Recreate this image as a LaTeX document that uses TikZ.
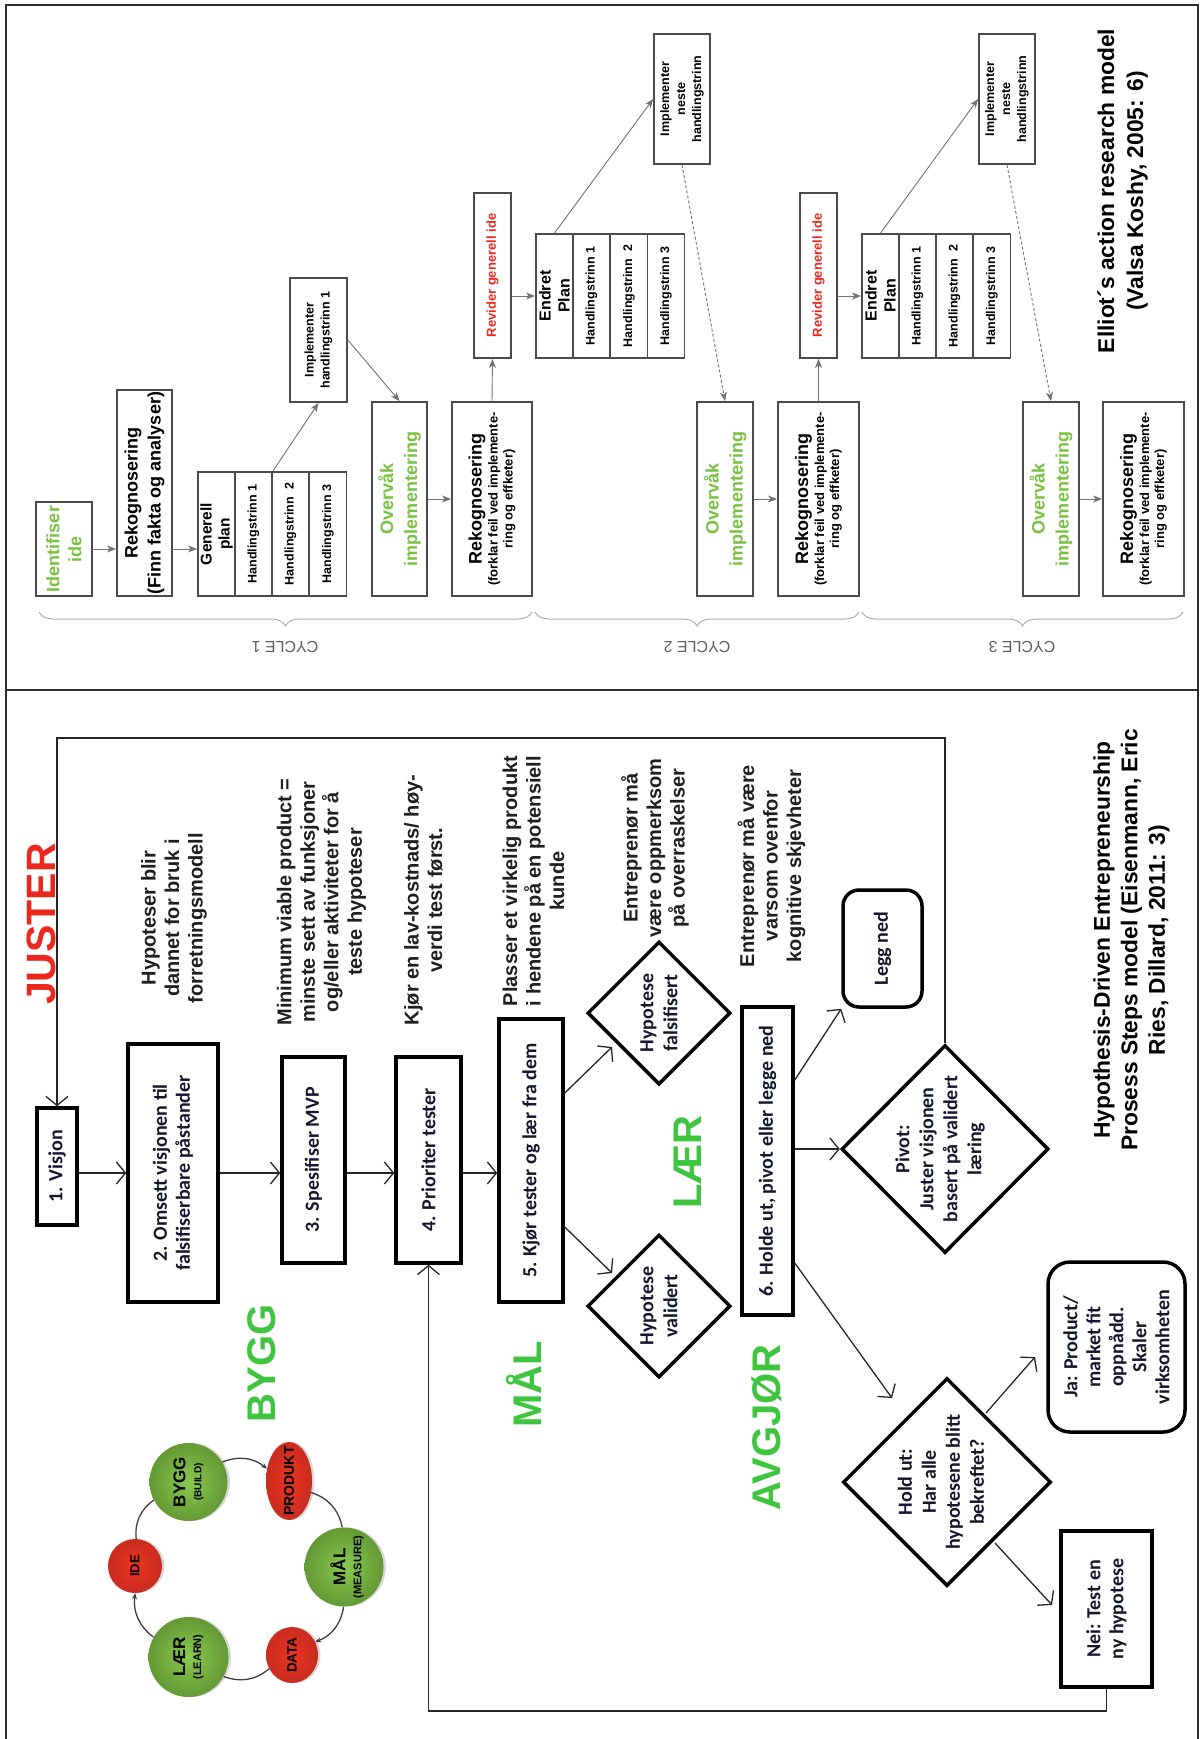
\documentclass[tikz,border=0pt]{standalone}
\usepackage{fontspec}
\setmainfont{Liberation Sans}
\newfontfamily\calfont{Carlito}
\usetikzlibrary{arrows.meta,shapes.geometric,decorations.pathreplacing,calc,shadows}

\newcommand{\fsz}[2]{\fontsize{#1}{#2}\selectfont}

\definecolor{framegray}{RGB}{45,45,45}
\definecolor{boxgray}{RGB}{75,75,75}
\definecolor{linegray}{RGB}{115,115,115}
\definecolor{bracegray}{RGB}{175,175,175}
\definecolor{cyclegray}{RGB}{95,95,95}
\definecolor{leafgreen}{RGB}{122,193,66}
\definecolor{stagegreen}{RGB}{62,196,62}
\definecolor{alertred}{RGB}{236,40,30}
\definecolor{ink}{RGB}{22,22,48}
\definecolor{ballgreen}{RGB}{128,196,66}
\definecolor{ballred}{RGB}{236,52,36}

\tikzset{
  vert/.style={rotate=90, align=center, inner sep=0pt},
  ebox/.style={vert, draw=boxgray, line width=1.8pt, font=\bfseries\fsz{12.5}{16}},
  cell/.style={ebox, minimum width=124pt, minimum height=37pt},
  earrow/.style={draw=linegray, line width=0.9pt, -{Stealth[length=9pt,width=7pt,inset=2.5pt]}},
  edash/.style={earrow, dash pattern=on 3pt off 2.2pt},
  cyclebrace/.style={draw=bracegray, line width=1pt, decorate, decoration={brace, amplitude=14pt}},
  cyclelab/.style={rotate=180, font=\fsz{16}{16}, text=cyclegray, inner sep=0pt},
  hbox/.style={vert, draw=black, line width=3.5pt, font=\calfont\bfseries\fsz{20}{23}, text=ink},
  hround/.style={hbox, rounded corners=16pt},
  hdia/.style={vert, diamond, draw=black, line width=3.5pt},
  dtext/.style={vert, font=\calfont\bfseries\fsz{20}{24}, text=ink},
  harrow/.style={draw=black!85, line width=1.3pt, -{Straight Barb[length=9pt,width=22pt]}},
  note/.style={vert, font=\bfseries\fsz{20}{23.5}, text=black!88},
  stage/.style={vert, font=\bfseries\fsz{40}{40}, text=stagegreen},
  headline/.style={vert, font=\bfseries\fsz{22.8}{28}, text=black},
  disc/.style={inner sep=0pt, drop shadow={opacity=0.3, shadow xshift=2.5pt, shadow yshift=0pt}},
  gdisc/.style={disc, circle, inner color=ballgreen!92!white, outer color=ballgreen!78!black},
  rdisc/.style={disc, ellipse, inner color=ballred, outer color=ballred!85!black},
  disctext/.style={vert, font=\bfseries\fsz{10}{13}, text=black},
  ringline/.style={draw=black!75, line width=1.3pt},
  ringarrow/.style={ringline, -{Stealth[length=6pt,width=5pt]}},
}

\begin{document}
\begin{tikzpicture}[x=1pt,y=-1pt]
\fill[white] (0,0) rectangle (1203,1739);
\useasboundingbox (0,0) rectangle (1203,1739);

% outer frame and divider between the two models
\draw[framegray, line width=1.5pt] (6,1739) -- (6,5) -- (1198,5) -- (1198,1739);
\draw[framegray, line width=1.5pt] (6,690) -- (1198,690);

% ================= Elliot's action research model =================
% cycle 1
\node[ebox, minimum width=94pt, minimum height=56pt, text=leafgreen, font=\bfseries\fsz{18}{22}] (idA) at (64,549) {Identifiser\\ide};
\node[ebox, minimum width=206pt, minimum height=55pt, font=\bfseries\fsz{18}{23}] (rekA) at (144.5,493) {Rekognosering\\(Finn fakta og analyser)};
\node[cell, font=\bfseries\fsz{15.5}{18}] (gpA) at (216.5,534) {Generell\\plan};
\node[cell] (h1A) at (253.5,534) {Handlingstrinn 1};
\node[cell] (h2A) at (290.5,534) {Handlingstrinn~\ 2};
\node[cell] (h3A) at (328,534) {Handlingstrinn 3};
\node[ebox, minimum width=124pt, minimum height=57pt] (impA) at (318.5,340) {Implementer\\handlingstrinn 1};
\node[ebox, minimum width=194pt, minimum height=55pt, text=leafgreen, font=\bfseries\fsz{18}{24}] (ovA) at (399.5,499) {Overvåk\\implementering};
\node[ebox, minimum width=194pt, minimum height=80pt, font=\bfseries\fsz{13}{15}] (rkA) at (492,499) {{\fsz{18}{20}Rekognosering}\\[1pt](forklar feil ved implemente-\\ring og effketer)};
\node[ebox, minimum width=165pt, minimum height=37pt, text=alertred, font=\bfseries\fsz{13}{15}] (rvA) at (492.5,275.5) {Revider generell ide};
\node[cell, font=\bfseries\fsz{16}{19}] (epA) at (554.5,296) {Endret\\Plan};
\node[cell] (e1A) at (591.5,296) {Handlingstrinn 1};
\node[cell] (e2A) at (629,296) {Handlingstrinn~\ 2};
\node[cell] (e3A) at (666,296) {Handlingstrinn 3};
\node[ebox, minimum width=130pt, minimum height=56pt] (inA) at (682,99) {Implementer\\neste\\handlingstrinn};

% cycle 2
\node[ebox, minimum width=194pt, minimum height=56pt, text=leafgreen, font=\bfseries\fsz{18}{24}] (ovB) at (725,499) {Overvåk\\implementering};
\node[ebox, minimum width=194pt, minimum height=81pt, font=\bfseries\fsz{13}{15}] (rkB) at (818.5,499) {{\fsz{18}{20}Rekognosering}\\[1pt](forklar feil ved implemente-\\ring og effketer)};
\node[ebox, minimum width=165pt, minimum height=37pt, text=alertred, font=\bfseries\fsz{13}{15}] (rvB) at (818.5,275.5) {Revider generell ide};
\node[cell, font=\bfseries\fsz{16}{19}] (epB) at (880.5,296) {Endret\\Plan};
\node[cell] (e1B) at (917.5,296) {Handlingstrinn 1};
\node[cell] (e2B) at (954.5,296) {Handlingstrinn~\ 2};
\node[cell] (e3B) at (992,296) {Handlingstrinn 3};
\node[ebox, minimum width=130pt, minimum height=56pt] (inB) at (1007,99) {Implementer\\neste\\handlingstrinn};

% cycle 3
\node[ebox, minimum width=194pt, minimum height=56pt, text=leafgreen, font=\bfseries\fsz{18}{24}] (ovC) at (1051,499) {Overvåk\\implementering};
\node[ebox, minimum width=194pt, minimum height=81pt, font=\bfseries\fsz{13}{15}] (rkC) at (1143.5,499) {{\fsz{18}{20}Rekognosering}\\[1pt](forklar feil ved implemente-\\ring og effketer)};

% connectors of the action research model
\draw[earrow] (idA.south) -- (rekA.north |- idA);
\draw[earrow] (rekA.south |- idA) -- (gpA.north |- idA);
\draw[earrow] (h1A.south east) -- (impA.west);
\draw[earrow] (impA.south) -- (ovA.east);
\draw[earrow] (ovA.south) -- (rkA.north);
\draw[earrow] (rkA.east) -- (rvA.west);
\draw[earrow] (rvA.south |- epA) -- (epA.north);
\draw[earrow] (epA.east) -- (inA.north);
\draw[edash] (inA.west) -- (ovB.east);
\draw[earrow] (ovB.south) -- (rkB.north);
\draw[earrow] (rkB.east) -- (rvB.west);
\draw[earrow] (rvB.south |- epB) -- (epB.north);
\draw[earrow] (epB.east) -- (inB.north);
\draw[edash] (inB.west) -- (ovC.east);
\draw[earrow] (ovC.south) -- (rkC.north);

% cycle braces
\draw[cyclebrace] (532,612) -- (39,612);
\draw[cyclebrace] (859,612) -- (535,612);
\draw[cyclebrace] (1183,612) -- (862,612);
\node[cyclelab] (cyc1) at (285,647) {CYCLE 1};
\node[cyclelab] (cyc2) at (697,647) {CYCLE 2};
\node[cyclelab] (cyc3) at (1022,647) {CYCLE 3};

\node[headline, font=\bfseries\fsz{22.8}{29}] (etitle) at (1122.5,191) {Elliot´s action research model\\(Valsa Koshy, 2005: 6)};

% ================= Hypothesis-driven process steps =================
\node[vert, font=\bfseries\fsz{41}{41}, text=alertred] (juster) at (41.5,924) {JUSTER};

\node[note] (n2) at (174,918) {Hypoteser blir\\dannet for bruk i\\forretningsmodell};
\node[note] (n3) at (321.5,902) {Minimum viable product =\\minste sett av funksjoner\\og/eller aktiviteter for å\\teste hypoteser};
\node[note] (n4) at (423.5,900) {Kjør en lav-kostnads/ høy-\\verdi test først.};
\node[note] (n5) at (533.5,881) {Plasser et virkelig produkt\\i hendene på en potensiell\\kunde};
\node[note] (n6) at (655,848) {Entreprenør må\\være oppmerksom\\på overraskelser};
\node[note] (n7) at (771.5,866) {Entreprenør må være\\varsom ovenfor\\kognitive skjevheter};

\node[hbox, minimum width=117pt, minimum height=40pt] (v1) at (57,1166.5) {1. Visjon};
\node[hbox, minimum width=258pt, minimum height=90pt] (b2) at (173,1173) {2. Omsett visjonen til\\falsifiserbare påstander};
\node[hbox, minimum width=206pt, minimum height=63pt] (b3) at (313.5,1160) {3. Spesifiser MVP};
\node[hbox, minimum width=206pt, minimum height=65pt] (b4) at (428.5,1160) {4. Prioriter tester};
\node[hbox, minimum width=283pt, minimum height=64pt] (b5) at (531,1160.5) {5. Kjør tester og lær fra dem};

\node[hdia, minimum width=143pt, minimum height=143pt] (fals) at (659,1013) {};
\node[dtext] (falsT) at (fals) {Hypotese\\falsifisert};
\node[hdia, minimum width=143pt, minimum height=143pt] (val) at (659,1306) {};
\node[dtext] (valT) at (val) {Hypotese\\validert};

\node[hbox, minimum width=308pt, minimum height=51pt] (b6) at (767.5,1161) {6. Holde ut, pivot eller legge ned};
\node[hround, minimum width=117pt, minimum height=79pt] (legg) at (882.5,948.5) {Legg ned};
\node[hdia, minimum width=208pt, minimum height=207pt] (pivot) at (945,1149) {};
\node[dtext] (pivotT) at ($(pivot)+(-5,0)$) {Pivot:\\Juster visjonen\\basert på validert\\læring};
\node[hdia, minimum width=208pt, minimum height=208pt] (hold) at (947,1482) {};
\node[dtext] (holdT) at ($(hold)+(-6,0)$) {Hold ut:\\Har alle\\hypotesene blitt\\bekreftet?};
\node[hround, minimum width=170pt, minimum height=137pt, rounded corners=22pt] (ja) at (1116.5,1347) {Ja: Product/\\market fit\\oppnådd.\\Skaler\\virksomheten};
\node[hbox, minimum width=156pt, minimum height=91pt] (nei) at (1106.5,1609) {Nei: Test en\\ny hypotese};

\node[stage] (laer) at (688,1162) {LÆR};
\node[stage] (mal) at (523.5,1384.5) {MÅL};
\node[stage] (bygg) at (261.5,1363.5) {BYGG};
\node[stage] (avgjor) at (767,1427.5) {AVGJØR};

\node[headline, font=\bfseries\fsz{22.8}{27.5}] (htitle) at (1131.5,940) {Hypothesis-Driven Entrepreneurship\\Prosess Steps model (Eisenmann, Eric\\Ries, Dillard, 2011: 3)};

% process connectors
\coordinate (topturn) at (0,738);
\coordinate (botturn) at (0,1711);
\draw[harrow] (v1.south |- b2) -- (b2.north);
\draw[harrow] (b2.south) -- (b3.north |- b2);
\draw[harrow] (b3.south |- b2) -- (b4.north |- b2);
\draw[harrow] (b4.south |- b2) -- (b5.north |- b2);
\draw[harrow] ($(b5.south)+(0,-67.5)$) -- ($(fals)+(-47,34)$);
\draw[harrow] ($(b5.south)+(0,66.5)$) -- ($(val)+(-47,-33)$);
\draw[harrow] ($(b6.south)+(0,-81)$) -- (legg.north west);
\draw[harrow] (b6.south |- pivot) -- (pivot.north);
\draw[harrow] ($(b6.south)+(0,102)$) -- ($(hold)+(-55,-84)$);
\draw[harrow] ($(hold)+(39,-69)$) -- ($(ja)+(-81.5,10)$);
\draw[harrow] ($(hold)+(48,61)$) -- ($(nei)+(-54.5,-4)$);
\draw[harrow] (pivot.east) -- (pivot.east |- topturn) -- (v1.east |- topturn) -- (v1.east);
\draw[harrow] (nei.west) -- (nei.west |- botturn) -- (b4.west |- botturn) -- (b4.west);

% build-measure-learn ring
\node[rdisc, minimum width=54pt, minimum height=54pt] (ide) at (135,1566) {};
\node[gdisc, minimum size=78pt] (byggc) at (188.5,1482) {};
\node[rdisc, minimum width=46pt, minimum height=78pt] (prod) at (289,1481) {};
\node[gdisc, minimum size=79pt] (malc) at (344,1567) {};
\node[rdisc, minimum width=52pt, minimum height=56pt] (data) at (292,1655) {};
\node[gdisc, minimum size=80pt] (laerc) at (188.5,1657) {};

\node[disctext, font=\bfseries\fsz{13}{13}] (ideT) at (ide) {IDE};
\node[disctext] (byggT) at (byggc) {{\fsz{17}{17}BYGG}\\[3pt](BUILD)};
\node[disctext, font=\bfseries\fsz{14}{14}] (prodT) at (prod) {PRODUKT};
\node[disctext, font=\bfseries\fsz{11}{13}] (malT) at ($(malc)+(3,0)$) {{\fsz{17}{17}MÅL}\\[3pt](MEASURE)};
\node[disctext, font=\bfseries\fsz{13.5}{13.5}] (dataT) at (data) {DATA};
\node[disctext, font=\bfseries\fsz{11}{13}] (laerT) at (laerc) {{\fsz{17}{17}LÆR}\\[3pt](LEARN)};

\draw[ringline] (ide) to[bend left=30] (byggc);
\draw[ringarrow] (byggc) to[bend left=30] (prod);
\draw[ringline] (prod) to[bend left=30] (malc);
\draw[ringarrow] (malc) to[bend left=30] (data);
\draw[ringline] (data) to[bend left=30] (laerc);
\draw[ringarrow] (laerc) to[bend left=30] (ide);
\end{tikzpicture}
\end{document}
